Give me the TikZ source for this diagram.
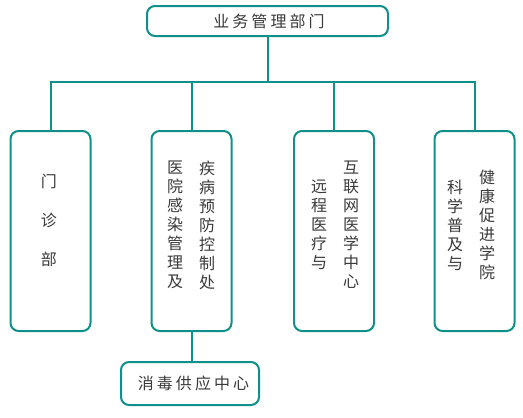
\documentclass[tikz,border=0pt]{standalone}
\usepackage{fontspec}
\setmainfont{Noto Sans CJK SC}
\newfontfamily\cjkls[LetterSpace=19]{Noto Sans CJK SC}
\definecolor{teal1}{HTML}{10908A}
\definecolor{txt}{HTML}{3A3A3A}
\begin{document}
\begin{tikzpicture}[x=1pt,y=-1pt,
  box/.style={draw=teal1, line width=2pt, rounded corners=8pt, fill=white, inner sep=0pt},
  vbox/.style={box, minimum width=80pt, minimum height=200pt},
  conn/.style={draw=teal1, line width=2pt},
  vtxt/.style={text=txt, align=center, inner sep=0pt, font=\fontsize{16}{19}\selectfont},
  htxt/.style={text=txt, inner sep=0pt, font=\fontsize{16}{19}\selectfont\cjkls}]
\useasboundingbox (0,0) rectangle (523,418);
\node[box, minimum width=241pt, minimum height=30pt] (top) at (267.5,21) {};
\node[htxt] (toptxt) at (269,21) {业务管理部门};
\node[vbox] (b1) at (50.5,231) {};
\node[vbox] (b2) at (191.5,231) {};
\node[vbox] (b3) at (334,231) {};
\node[vbox] (b4) at (474.5,231) {};
\node[box, minimum width=138pt, minimum height=43pt] (b5) at (190,383.5) {};
\coordinate (bus) at (267.5,82);
\draw[conn] (top.south) -- (bus);
\draw[conn] (b1.north) -- (b1.north |- bus) -- (b4.north |- bus) -- (b4.north);
\draw[conn] (b2.north) -- (b2.north |- bus);
\draw[conn] (b3.north) -- (b3.north |- bus);
\draw[conn] (b2.south) -- (b5.north -| b2.south);
\node[vtxt, font=\fontsize{16}{39}\selectfont] (t1) at (49,220) {门\\诊\\部};
\node[vtxt] (t2a) at (175,225) {医\\院\\感\\染\\管\\理\\及};
\node[vtxt] (t2b) at (207,225) {疾\\病\\预\\防\\控\\制\\处};
\node[vtxt] (t3a) at (319,225) {远\\程\\医\\疗\\与};
\node[vtxt] (t3b) at (351,225) {互\\联\\网\\医\\学\\中\\心};
\node[vtxt] (t4a) at (455,225) {科\\学\\普\\及\\与};
\node[vtxt] (t4b) at (487,225) {健\\康\\促\\进\\学\\院};
\node[htxt] (t5) at (193.5,383.5) {消毒供应中心};
\end{tikzpicture}
\end{document}
